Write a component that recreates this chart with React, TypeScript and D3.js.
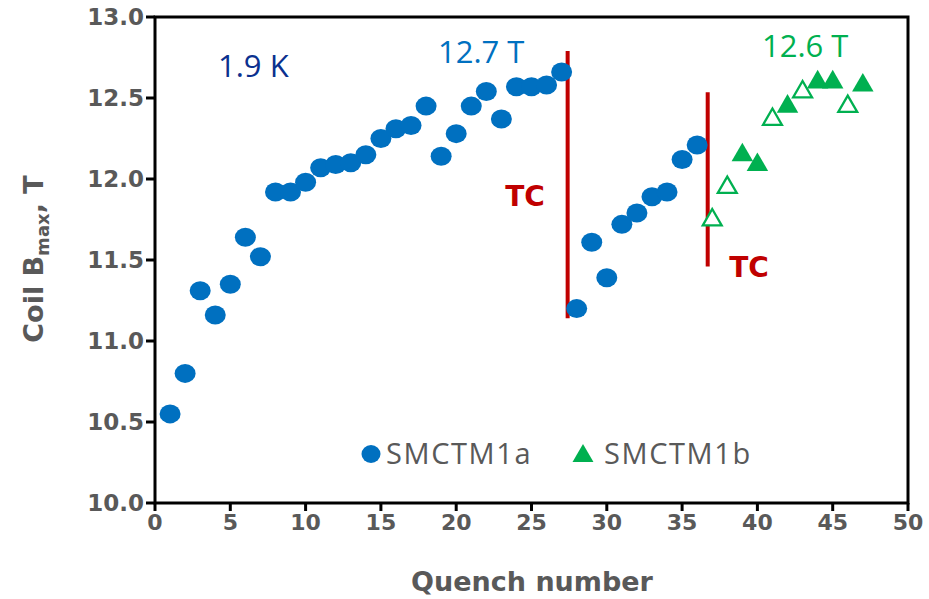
import React from "react";
import * as d3 from "d3";

const blueX = [1,2,3,4,5,6,7,8,9,10,11,12,13,14,15,16,17,18,19,20,21,22,23,24,25,26,27,28,29,30,31,32,33,34,35,36];
const blueY = [10.55,10.80,11.31,11.16,11.35,11.64,11.52,11.92,11.92,11.98,12.07,12.09,12.10,12.15,12.25,12.31,12.33,12.45,12.14,12.28,12.45,12.54,12.37,12.57,12.57,12.58,12.66,11.20,11.61,11.39,11.72,11.79,11.89,11.92,12.12,12.21];
const greenOpenX = [37,38,41,43,46];
const greenOpenY = [11.76,11.96,12.38,12.55,12.46];
const greenFilledX = [39,40,42,44,45,47];
const greenFilledY = [12.16,12.10,12.46,12.61,12.61,12.59];
const tcLines = [
  { x: 27.4, y0: 11.14, y1: 12.79 },
  { x: 36.7, y0: 11.46, y1: 12.535 },
];
const xTicks = [0,5,10,15,20,25,30,35,40,45,50];
const yTicks = [10.0,10.5,11.0,11.5,12.0,12.5,13.0];
const seriesNames = ["SMCTM1a", "SMCTM1b"];

const BLUE = "#0070C0";
const GREEN = "#00B050";
const RED = "#C00000";
const GREY = "#595959";

export default function App() {
  const x = d3.scaleLinear().domain([0, 50]).range([155, 908]);
  const y = d3.scaleLinear().domain([10, 13]).range([503, 17]);
  const tri = d3.symbol().type(d3.symbolTriangle).size(200)() as string;
  const triLegend = d3.symbol().type(d3.symbolTriangle).size(190)() as string;
  const boldFont = "'DejaVu Sans', Verdana, sans-serif";
  const lightFont = "'Open Sans', sans-serif";

  return (
    <svg width={929} height={599} style={{ position: "absolute", left: 0, top: 0, background: "#fff" }}>
      {/* frame */}
      <rect x={x(0)} y={y(13)} width={x(50) - x(0)} height={y(10) - y(13)} fill="none" stroke="#000" strokeWidth={3} />
      {/* y ticks */}
      {yTicks.map((t) => (
        <g key={"y" + t}>
          <line x1={x(0) - 9} x2={x(0)} y1={y(t)} y2={y(t)} stroke="#000" strokeWidth={3} />
          <text x={144} y={y(t)} dy="0.36em" textAnchor="end" fontFamily={boldFont} fontWeight="bold" fontSize={23} fill={GREY}>
            {t.toFixed(1)}
          </text>
        </g>
      ))}
      {/* x ticks */}
      {xTicks.map((t) => (
        <g key={"x" + t}>
          <line x1={x(t)} x2={x(t)} y1={y(10)} y2={y(10) + 8} stroke="#000" strokeWidth={3} />
          <text x={x(t)} y={530} textAnchor="middle" fontFamily={boldFont} fontWeight="bold" fontSize={22} fill={GREY}>
            {t}
          </text>
        </g>
      ))}
      {/* axis titles */}
      <text x={532} y={591} textAnchor="middle" fontFamily={boldFont} fontWeight="bold" fontSize={27} fill={GREY}>
        Quench number
      </text>
      <text transform="translate(43,259) rotate(-90)" textAnchor="middle" fontFamily={boldFont} fontWeight="bold" fontSize={27} fill={GREY}>
        Coil B<tspan fontSize={18} dy={6}>max</tspan><tspan dy={-6}>, T</tspan>
      </text>

      {/* TC lines */}
      {tcLines.map((l, i) => (
        <line key={"tc" + i} x1={x(l.x)} x2={x(l.x)} y1={y(l.y0)} y2={y(l.y1)} stroke={RED} strokeWidth={4} />
      ))}
      <text x={525} y={206} textAnchor="middle" fontFamily={boldFont} fontWeight="bold" fontSize={28} fill={RED}>TC</text>
      <text x={749} y={277} textAnchor="middle" fontFamily={boldFont} fontWeight="bold" fontSize={28} fill={RED}>TC</text>

      {/* annotations */}
      <text x={218} y={77} fontFamily={lightFont} fontSize={31} fill="#0B318F">1.9 K</text>
      <text x={438} y={63} fontFamily={lightFont} fontSize={31} fill={BLUE}>12.7 T</text>
      <text x={762} y={57} fontFamily={lightFont} fontSize={31} fill={GREEN}>12.6 T</text>

      {/* blue circles */}
      {blueX.map((v, i) => (
        <ellipse key={"b" + i} cx={x(v)} cy={y(blueY[i])} rx={10.5} ry={9.5} fill={BLUE} />
      ))}
      {/* green filled triangles */}
      {greenFilledX.map((v, i) => (
        <path key={"gf" + i} d={tri} transform={`translate(${x(v)},${y(greenFilledY[i]) + 2})`} fill={GREEN} />
      ))}
      {/* green open triangles */}
      {greenOpenX.map((v, i) => (
        <path key={"go" + i} d={tri} transform={`translate(${x(v)},${y(greenOpenY[i]) + 2}) scale(0.88)`} fill="#fff" stroke={GREEN} strokeWidth={2.6} />
      ))}

      {/* legend */}
      <ellipse cx={371} cy={454} rx={9.5} ry={9} fill={BLUE} />
      <text x={386} y={464} fontFamily={lightFont} fontSize={29} letterSpacing={1.6} fill={GREY}>{seriesNames[0]}</text>
      <path d={triLegend} transform="translate(583,456)" fill={GREEN} />
      <text x={604} y={464} fontFamily={lightFont} fontSize={29} letterSpacing={1.6} fill={GREY}>{seriesNames[1]}</text>
    </svg>
  );
}
